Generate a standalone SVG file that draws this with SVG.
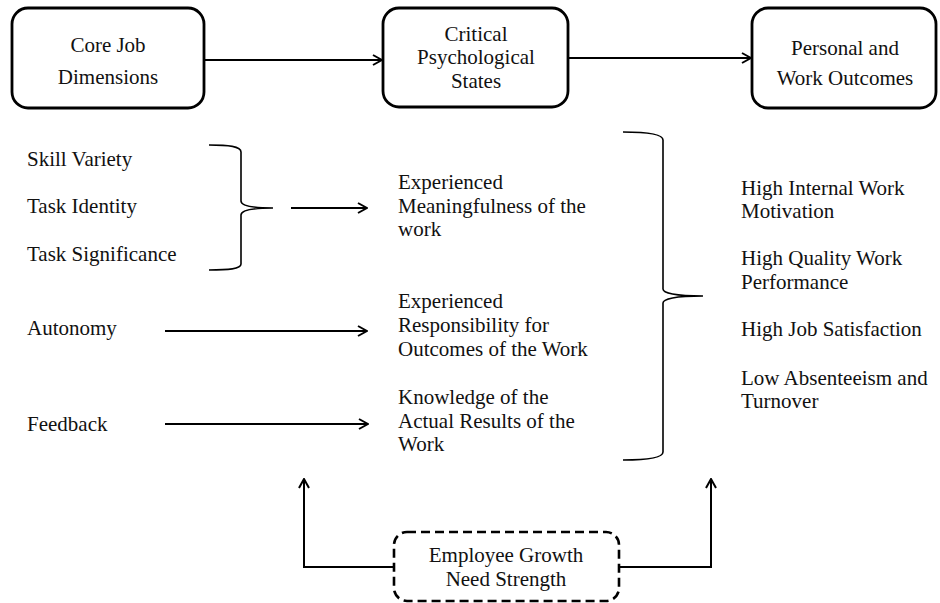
<svg xmlns="http://www.w3.org/2000/svg" width="940" height="603" viewBox="0 0 940 603">
<defs>
<style>
text{font-family:"Liberation Serif","Times New Roman",serif;font-size:21px;fill:#111;}
.c{text-anchor:middle;}
.box{fill:#fff;stroke:#000;stroke-width:2.8;}
.dash{fill:#fff;stroke:#000;stroke-width:2.6;stroke-dasharray:9 5;}
.ln{fill:none;stroke:#000;stroke-width:2;}
.br{fill:none;stroke:#000;stroke-width:1.6;}
</style>
<marker id="arr" viewBox="0 0 12 12" refX="11" refY="6" markerWidth="12" markerHeight="12" markerUnits="userSpaceOnUse" orient="auto">
<path d="M2,1 L11,6 L2,11" fill="none" stroke="#000" stroke-width="2"/>
</marker>
</defs>
<rect width="940" height="603" fill="#fff"/>

<g id="core">
<rect class="box" x="12" y="8" width="192" height="100" rx="16"/>
<text class="c" x="108" y="52">Core Job</text>
<text class="c" x="108" y="84">Dimensions</text>
</g>
<g id="critical">
<rect class="box" x="383" y="8" width="185" height="99" rx="16"/>
<text class="c" x="476" y="41">Critical</text>
<text class="c" x="476" y="64">Psychological</text>
<text class="c" x="476" y="88">States</text>
</g>
<g id="outcomes">
<rect class="box" x="752" y="8" width="184" height="100" rx="16"/>
<text class="c" x="845" y="55">Personal and</text>
<text class="c" x="845" y="85">Work Outcomes</text>
</g>

<g id="dimensions">
<text x="27" y="166">Skill Variety</text>
<text x="27" y="213">Task Identity</text>
<text x="27" y="261">Task Significance</text>
<text x="27" y="335">Autonomy</text>
<text x="27" y="431">Feedback</text>
</g>

<g id="states">
<text x="398" y="189">Experienced</text>
<text x="398" y="213">Meaningfulness of the</text>
<text x="398" y="236">work</text>
<text x="398" y="308">Experienced</text>
<text x="398" y="332">Responsibility for</text>
<text x="398" y="356">Outcomes of the Work</text>
<text x="398" y="404">Knowledge of the</text>
<text x="398" y="428">Actual Results of the</text>
<text x="398" y="451">Work</text>
</g>

<g id="results">
<text x="741" y="195">High Internal Work</text>
<text x="741" y="218">Motivation</text>
<text x="741" y="265">High Quality Work</text>
<text x="741" y="289">Performance</text>
<text x="741" y="336">High Job Satisfaction</text>
<text x="741" y="385">Low Absenteeism and</text>
<text x="741" y="408">Turnover</text>
</g>

<g id="growth">
<rect class="dash" x="394" y="532" width="225" height="69" rx="13"/>
<text class="c" x="506" y="562">Employee Growth</text>
<text class="c" x="506" y="586">Need Strength</text>
</g>

<g id="braces">
<path class="br" d="M209,145 C228,145 241,146 241,152 L241,201 C241,205 250,208 273,208 C250,208 241,211 241,215 L241,264 C241,269 228,270 209,270"/>
<path class="br" d="M623,132 C645,132 663,134 663,140 L663,289 C663,293 675,296 703,296 C675,296 663,299 663,303 L663,452 C663,458 645,460 623,460"/>
</g>

<g id="connectors">
<line class="ln" x1="204" y1="60" x2="382" y2="60" marker-end="url(#arr)"/>
<line class="ln" x1="568" y1="58" x2="751" y2="58" marker-end="url(#arr)"/>
<line class="ln" x1="291" y1="208" x2="367" y2="208" marker-end="url(#arr)"/>
<line class="ln" x1="165" y1="331" x2="367" y2="331" marker-end="url(#arr)"/>
<line class="ln" x1="165" y1="424" x2="368" y2="424" marker-end="url(#arr)"/>
<path class="ln" d="M394,567 H304 V479" marker-end="url(#arr)"/>
<path class="ln" d="M619,567 H711 V479" marker-end="url(#arr)"/>
</g>
</svg>
